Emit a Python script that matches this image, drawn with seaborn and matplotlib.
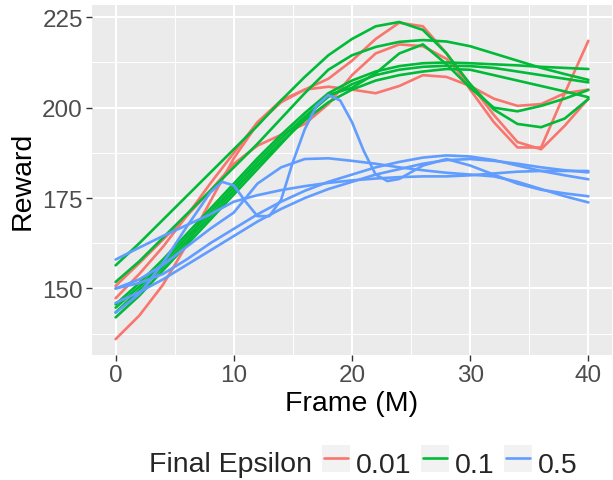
import numpy as np
import pandas as pd
import matplotlib
matplotlib.use("Agg")
import matplotlib.pyplot as plt
from matplotlib.patches import Rectangle
from matplotlib.lines import Line2D
import seaborn as sns

# frame grid (M) shared by most runs
FRAMES = [0, 2, 4, 6, 8, 10, 12, 14, 16, 18, 20, 22, 24, 26, 28, 30, 32, 34, 36, 38, 40]

# final epsilon = 0.01
R_TOP  = [136, 142.5, 151, 162, 174, 186, 195.5, 201.5, 205, 208, 213, 219, 223.5, 222.5, 215, 205, 196, 189, 189, 204, 218.5]
R_MID  = [150.7, 157, 163.5, 170, 177, 184.5, 189.5, 192.5, 195.5, 201, 209, 215, 217.5, 217, 213.5, 206.5, 198, 190.5, 188.5, 195, 202.5]
R_WAVE = [147.3, 154, 161.5, 170, 179, 187.5, 196, 202, 205, 205.8, 205, 204, 206, 209, 208.5, 206, 202.5, 200.5, 201, 204, 205]

# final epsilon = 0.1
G1 = [156.4, 162.5, 169, 175.5, 182, 188.5, 195, 202, 208.5, 214.5, 219, 222.5, 223.7, 221.5, 215, 206.5, 199.5, 195.5, 194.6, 197, 202.4]
G2 = [151.8, 157.5, 164, 170.5, 177, 183.5, 190, 197, 204, 210.5, 214.5, 216.8, 218.2, 218.7, 218.3, 217, 215, 213, 211, 209.3, 207.7]
G3 = [142, 148, 155, 162, 169, 176, 183, 190, 197, 203.5, 205.5, 209.5, 215, 217.5, 212, 205.5, 200, 199, 200.5, 202.5, 204.9]
G4 = [145.6, 151.5, 158, 165, 172, 179, 186, 192.5, 198.5, 204, 207.5, 210, 211.5, 212.3, 212.5, 212.3, 212, 211.7, 211.3, 211, 210.7]
G5 = [144.7, 150.5, 157, 164, 171, 178, 185, 191.5, 197.5, 203, 206.5, 209, 210.5, 211.3, 211.6, 211.5, 211, 210, 209, 208, 207]
G6 = [143.4, 149.5, 156, 163, 170, 177, 184, 190.5, 196.5, 201.5, 205, 207.5, 209, 210, 210.7, 210.5, 209, 207.5, 206, 204.5, 202.9]

# final epsilon = 0.5
B_FLAT = [158, 161.3, 164.5, 167.5, 170.5, 174, 175.8, 177.2, 178.3, 179.2, 179.9, 180.4, 180.8, 181, 181, 181.3, 181.8, 182.3, 182.5, 182.5, 182.5]
B_HUMP = [150, 152.5, 156.5, 161.5, 166.5, 171, 179, 183.5, 185.8, 186, 185.3, 184.5, 183.5, 182.7, 182, 181.5, 181, 179.5, 177.5, 175.5, 173.8]
B_ARC1 = [150, 151.5, 154, 158, 162.5, 166.5, 170.5, 174, 177, 179.5, 181.5, 183.5, 185, 186.2, 186.8, 186.5, 185.5, 184, 182.5, 181.3, 180.2]
B_ARC2 = [146, 149, 152.5, 156.5, 160.5, 164.5, 168.5, 172, 175, 177.5, 179.5, 181.5, 183, 184.5, 185.5, 185.8, 185.3, 184.5, 183.5, 182.7, 182.1]
SPIKE_X = [0, 2, 4, 6, 8, 9, 10, 11, 12, 13, 14, 15, 16, 17, 18, 19, 20, 21, 22, 23, 24, 26, 28, 30, 32, 34, 36, 38, 40]
B_SPIKE = [143.3, 148.5, 157, 167, 176.5, 179.5, 178.5, 174, 170, 170, 174.5, 185, 194, 200.5, 203.5, 202, 196, 188, 181.5, 179.7, 180.3, 184, 185.8, 184, 181.5, 179, 177.3, 176.3, 175.5]

EPS_LABELS = ["0.01", "0.1", "0.5"]
PALETTE = ["#F8766D", "#00BA38", "#619CFF"]

runs = [("0.01", FRAMES, R_TOP), ("0.01", FRAMES, R_MID), ("0.01", FRAMES, R_WAVE),
        ("0.1", FRAMES, G1), ("0.1", FRAMES, G2), ("0.1", FRAMES, G3),
        ("0.1", FRAMES, G4), ("0.1", FRAMES, G5), ("0.1", FRAMES, G6),
        ("0.5", FRAMES, B_FLAT), ("0.5", FRAMES, B_HUMP), ("0.5", FRAMES, B_ARC1),
        ("0.5", FRAMES, B_ARC2), ("0.5", SPIKE_X, B_SPIKE)]

rows = []
for i, (eps, xs, ys) in enumerate(runs):
    for x, y in zip(xs, ys):
        rows.append({"frame": x, "reward": y, "eps": eps, "run": i})
df = pd.DataFrame(rows)


class KeyHandler:
    # grey square key with a coloured line, like ggplot
    def legend_artist(self, legend, orig_handle, fontsize, handlebox):
        x0, y0 = handlebox.xdescent, handlebox.ydescent
        w, h = handlebox.width, handlebox.height
        rect = Rectangle([x0, y0 - 0.1 * h], w, h * 1.1, facecolor="#F2F2F2", edgecolor="none",
                         transform=handlebox.get_transform())
        line = Line2D([x0 + 0.08 * w, x0 + 0.92 * w], [y0 + 0.45 * h] * 2,
                      color=orig_handle.get_color(), linewidth=1.9,
                      transform=handlebox.get_transform())
        handlebox.add_artist(rect)
        handlebox.add_artist(line)
        return line


sns.set_theme(style="darkgrid")
plt.rcParams["font.family"] = ["Liberation Sans", "DejaVu Sans"]

fig = plt.figure(figsize=(6.13, 4.81), dpi=100)
ax = fig.add_axes([92/613, 1-356/481, (612-92)/613, (356-6)/481])
ax.set_facecolor("#EBEBEB")

sns.lineplot(data=df, x="frame", y="reward", hue="eps", units="run", estimator=None,
             hue_order=EPS_LABELS, palette=PALETTE, linewidth=1.9, ax=ax, legend=False, sort=True)

ax.set_xlim(-2, 42)
ax.set_ylim(131.6, 228.4)
ax.set_xticks([0, 10, 20, 30, 40])
ax.set_yticks([150, 175, 200, 225])
ax.set_xticks([5, 15, 25, 35], minor=True)
ax.set_yticks([137.5, 162.5, 187.5, 212.5], minor=True)
ax.grid(which="major", color="white", linewidth=1.5)
ax.grid(which="minor", color="white", linewidth=0.7)
for s in ax.spines.values():
    s.set_visible(False)
ax.tick_params(axis="both", which="major", length=4, width=1, color="#333333",
               labelsize=17.5, labelcolor="#4D4D4D", pad=2.5, bottom=True, left=True)
ax.tick_params(axis="both", which="minor", length=0)
ax.set_xlabel("Frame (M)", fontsize=20.5, color="black", labelpad=3)
ax.set_ylabel("Reward", fontsize=20.5, color="black", labelpad=5)

handles = [Line2D([], [], color=c) for c in PALETTE]
fig.legend(handles, EPS_LABELS, loc="center left", bbox_to_anchor=(322/613, 1-465/481), ncol=3,
           frameon=False, fontsize=20.5, handlelength=1.0, handleheight=0.95,
           handletextpad=0.2, columnspacing=0.32, borderaxespad=0, borderpad=0,
           handler_map={Line2D: KeyHandler()})
fig.text(312/613, 1-465/481, "Final Epsilon", ha="right", va="center", fontsize=20.5)

fig.savefig("out.png", dpi=100)
